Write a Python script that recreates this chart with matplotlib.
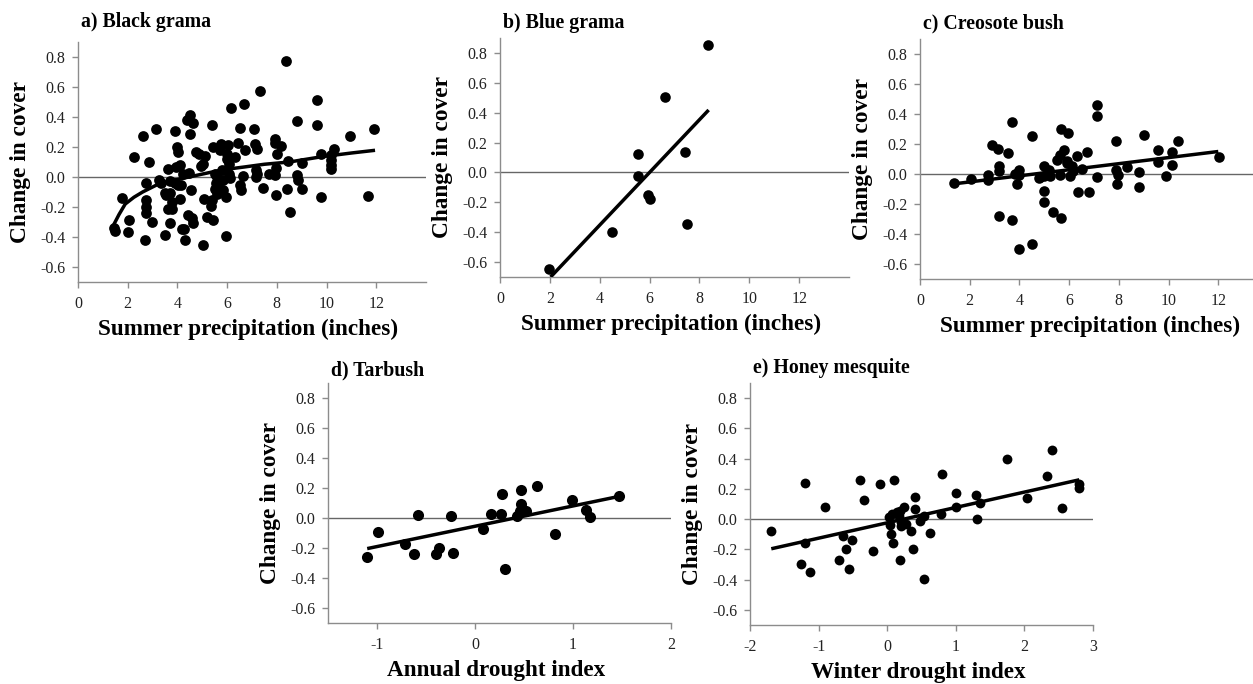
import numpy as np
import matplotlib
matplotlib.use("Agg")
import matplotlib.pyplot as plt

plt.rcParams['font.family'] = ['Liberation Serif', 'DejaVu Serif']

W, H = 1253, 684

# ---------------- data ----------------
a_x = [1.45, 1.5, 1.79, 2.06, 2.0, 2.26, 2.6, 2.85, 2.75, 2.73, 2.72, 2.75, 2.96, 2.69,
       3.13, 3.27, 3.32, 3.49, 3.48, 3.53, 3.63, 3.7, 3.72, 3.72, 3.78, 3.8, 3.63, 3.9,
       3.97, 4.02, 3.94, 3.9, 4.02, 4.1, 4.12, 4.23, 4.16, 4.2, 4.27, 4.3, 4.46, 4.53,
       4.5, 4.4, 4.61, 4.5, 4.41, 4.61, 4.58, 4.74, 4.88, 4.96, 5.04, 5.01, 5.1, 5.06,
       5.2, 5.36, 5.39, 5.44, 5.4, 5.44, 5.52, 5.55, 5.58, 5.62, 5.71, 5.75, 5.78, 5.82,
       5.85, 5.95, 5.94, 5.98, 6.03, 6.06, 6.09, 6.12, 6.14, 6.32, 6.42, 6.52, 6.52, 6.54,
       6.69, 6.72, 6.63, 7.08, 7.14, 7.19, 7.16, 7.16, 7.21, 7.32, 7.43, 7.7, 7.92, 7.94,
       7.99, 7.97, 7.94, 7.97, 8.16, 8.36, 8.43, 8.4, 8.51, 8.83, 8.83, 8.84, 9.0, 9.03,
       9.61, 9.61, 9.77, 9.77, 10.28, 10.17, 10.17, 10.17, 10.17, 10.93, 11.67, 11.92,
       5.6, 5.65, 5.5, 6.0]
a_y = [-0.34, -0.36, -0.142, -0.289, -0.364, 0.133, 0.273, 0.098, -0.04, -0.151, -0.2,
       -0.238, -0.3, -0.422, 0.318, -0.018, -0.04, -0.107, -0.384, -0.12, 0.056, -0.027,
       -0.107, -0.304, -0.164, -0.211, -0.213, 0.307, 0.2, 0.167, 0.067, -0.04, -0.056,
       -0.149, 0.078, 0.022, -0.056, -0.344, -0.344, -0.422, 0.027, -0.084, 0.411, 0.382,
       0.36, 0.289, -0.256, -0.307, -0.271, 0.167, 0.151, 0.073, 0.084, -0.456, 0.138,
       -0.144, -0.267, -0.191, -0.156, -0.289, 0.344, 0.2, 0.022, -0.04, -0.111, -0.067,
       0.182, 0.222, 0.044, -0.018, -0.089, -0.133, -0.393, 0.156, 0.211, 0.089, 0.022,
       -0.004, 0.462, 0.133, 0.227, 0.329, -0.056, -0.084, 0.484, 0.182, 0.004, 0.322,
       0.218, 0.189, 0.044, 0.0, 0.022, 0.571, -0.073, 0.022, 0.256, 0.227, 0.156, 0.06,
       0.016, -0.118, 0.209, 0.771, 0.107, -0.078, -0.236, 0.371, 0.016, -0.022, 0.093,
       -0.078, 0.516, 0.349, 0.151, -0.133, 0.189, 0.144, 0.111, 0.082, 0.056, 0.271,
       -0.127, 0.318, 0.0, -0.02, -0.08, 0.12]
a_fit_x = [1.4, 1.65, 1.9, 2.25, 2.6, 3.2, 3.9, 4.6, 5.3, 5.9, 6.7, 7.5, 8.5, 9.8, 11.0, 11.95]
a_fit_y = [-0.33, -0.25, -0.18, -0.135, -0.10, -0.05, -0.02, 0.005, 0.03, 0.05, 0.067,
           0.085, 0.10, 0.135, 0.16, 0.178]

b_x = [1.98, 4.48, 5.55, 5.55, 5.92, 6.01, 6.61, 7.42, 7.51, 8.35]
b_y = [-0.644, -0.396, 0.122, -0.022, -0.149, -0.176, 0.507, 0.14, -0.342, 0.856]
b_fit_x = [2.03, 8.37]
b_fit_y = [-0.70, 0.418]

c_x = [1.37, 2.05, 2.72, 2.75, 2.88, 3.15, 3.19, 3.19, 3.16, 3.55, 3.71, 3.71, 3.82, 3.89,
       3.99, 3.99, 3.98, 4.49, 4.49, 4.83, 4.99, 4.99, 4.99, 4.99, 5.2, 5.23, 5.36, 5.5,
       5.63, 5.66, 5.66, 5.63, 5.79, 5.92, 5.97, 6.03, 6.1, 6.17, 6.33, 6.37, 6.5, 6.7,
       6.81, 7.13, 7.14, 7.13, 7.88, 7.88, 7.91, 7.95, 8.34, 8.81, 8.81, 9.01, 9.58, 9.58,
       9.89, 10.12, 10.15, 10.36, 12.01, 4.79, 5.15, 5.9]
c_y = [-0.06, -0.031, -0.004, -0.038, 0.191, 0.167, 0.051, 0.018, -0.282, 0.14, 0.347,
       -0.304, 0.002, -0.067, 0.024, -0.009, -0.5, 0.256, -0.467, -0.022, 0.051, -0.016,
       -0.116, -0.187, 0.029, -0.016, -0.251, 0.096, 0.129, 0.3, -0.293, -0.009, 0.158,
       0.073, 0.273, -0.016, 0.051, 0.018, 0.118, -0.122, 0.033, 0.147, -0.12, 0.462,
       0.389, -0.022, 0.218, 0.024, -0.067, -0.009, 0.047, 0.011, -0.087, 0.262, 0.158,
       0.08, -0.016, 0.144, 0.062, 0.222, 0.111, -0.027, 0.007, 0.084]
c_fit_x = [1.4, 12.0]
c_fit_y = [-0.065, 0.15]

d_x = [-1.10, -0.99, -0.71, -0.62, -0.58, -0.40, -0.37, -0.25, -0.22, 0.08, 0.16, 0.27,
       0.28, 0.31, 0.43, 0.46, 0.47, 0.47, 0.52, 0.63, 0.82, 0.99, 1.13, 1.17, 1.47]
d_y = [-0.259, -0.093, -0.171, -0.242, 0.022, -0.242, -0.197, 0.013, -0.231, -0.071,
       0.024, 0.024, 0.157, -0.337, 0.011, 0.047, 0.095, 0.184, 0.047, 0.213, -0.109,
       0.118, 0.055, 0.004, 0.146]
d_fit_x = [-1.10, 1.47]
d_fit_y = [-0.204, 0.144]

e_x = [-1.69, -1.196, -1.196, -1.26, -1.13, -0.90, -0.64, -0.70, -0.60, -0.56, -0.51,
       -0.40, -0.34, -0.21, -0.10, 0.10, 0.03, 0.07, 0.06, 0.08, 0.17, 0.20, 0.19, 0.24,
       0.18, 0.28, 0.35, 0.38, 0.41, 0.41, 0.48, 0.53, 0.62, 0.54, 0.78, 0.80, 1.01, 1.01,
       1.30, 1.31, 1.35, 1.74, 2.04, 2.33, 2.40, 2.55, 2.79, 2.80, 0.04, 0.2, 0.14]
e_y = [-0.078, 0.238, -0.156, -0.296, -0.351, 0.082, -0.111, -0.273, -0.196, -0.329,
       -0.14, 0.256, 0.127, -0.211, 0.229, 0.26, 0.011, 0.033, -0.1, -0.156, 0.022,
       -0.022, 0.056, 0.082, -0.267, -0.029, -0.078, -0.2, 0.144, 0.067, -0.011, 0.022,
       -0.089, -0.393, 0.033, 0.298, 0.171, 0.078, 0.16, -0.002, 0.107, 0.40, 0.14, 0.282,
       0.46, 0.071, 0.233, 0.204, -0.04, -0.044, 0.044]
e_fit_x = [-1.69, 2.80]
e_fit_y = [-0.196, 0.26]

ytick_values = [-0.6, -0.4, -0.2, 0.0, 0.2, 0.4, 0.6, 0.8]
ytick_labels = ["-0.6", "-0.4", "-0.2", "0.0", "0.2", "0.4", "0.6", "0.8"]
precip_ticks = [0, 2, 4, 6, 8, 10, 12]
precip_labels = ["0", "2", "4", "6", "8", "10", "12"]
annual_ticks = [-1, 0, 1, 2]
annual_labels = ["-1", "0", "1", "2"]
winter_ticks = [-2, -1, 0, 1, 2, 3]
winter_labels = ["-2", "-1", "0", "1", "2", "3"]

titles = ["a) Black grama", "b) Blue grama", "c) Creosote bush", "d) Tarbush", "e) Honey mesquite"]
xlabels = ["Summer precipitation (inches)"] * 3 + ["Annual drought index", "Winter drought index"]
ylabel = "Change in cover"

# ---------------- layout (pixels) ----------------
# left, top, right, bottom, xlim, marker size, title offset
layout = [
    (78, 42, 426, 282, (0, 14), 60, 20),
    (500, 38, 849, 277, (0, 14), 58, 15),
    (920, 39, 1268, 279, (0, 14), 58, 16),
    (328, 383, 671, 623, (-1.5, 2), 64, 13),
    (750, 383, 1093, 625, (-2, 3), 50, 15),
]

datasets = [
    (a_x, a_y, a_fit_x, a_fit_y, precip_ticks, precip_labels),
    (b_x, b_y, b_fit_x, b_fit_y, precip_ticks, precip_labels),
    (c_x, c_y, c_fit_x, c_fit_y, precip_ticks, precip_labels),
    (d_x, d_y, d_fit_x, d_fit_y, annual_ticks, annual_labels),
    (e_x, e_y, e_fit_x, e_fit_y, winter_ticks, winter_labels),
]

fig = plt.figure(figsize=(W / 100, H / 100), dpi=100)

spine_color = "#8c8c8c"
for (l, t, r, b, xlim, ms, toff), (xs, ys, fx, fy, xt, xtl), title, xl in zip(layout, datasets, titles, xlabels):
    ax = fig.add_axes([l / W, 1 - b / H, (r - l) / W, (b - t) / H])
    ax.set_xlim(*xlim)
    ax.set_ylim(-0.7, 0.9)
    ax.axhline(0, color="#666666", lw=1.0, zorder=1)
    ax.scatter(xs, ys, s=ms, color="black", linewidths=0, zorder=3, clip_on=False)
    ax.plot(fx, fy, color="black", lw=2.5, zorder=4, solid_capstyle="butt")
    for side in ("top", "right"):
        ax.spines[side].set_visible(False)
    for side in ("left", "bottom"):
        ax.spines[side].set_color(spine_color)
        ax.spines[side].set_linewidth(1.0)
    ax.set_yticks(ytick_values)
    ax.set_yticklabels(ytick_labels)
    ax.set_xticks(xt)
    ax.set_xticklabels(xtl)
    ax.tick_params(axis="y", direction="out", length=4, width=1.0, color=spine_color,
                   labelsize=11.5, labelcolor="#222222", pad=5)
    ax.tick_params(axis="x", direction="out", length=4, width=1.0, color=spine_color,
                   labelsize=11.5, labelcolor="#222222", pad=6)
    ax.set_xlabel(xl, fontsize=16.7, fontweight="bold")
    ax.set_ylabel(ylabel, fontsize=16.8, fontweight="bold")
    w = r - l
    h = b - t
    ax.yaxis.set_label_coords(-47 / w, 0.5)
    ax.xaxis.set_label_coords(0.49, -37 / h)
    ax.annotate(title, xy=(0, 1), xycoords="axes fraction", xytext=(3, toff),
                textcoords="offset pixels", ha="left", va="center",
                fontsize=14.3, fontweight="bold")

fig.savefig("out.png", dpi=100)
